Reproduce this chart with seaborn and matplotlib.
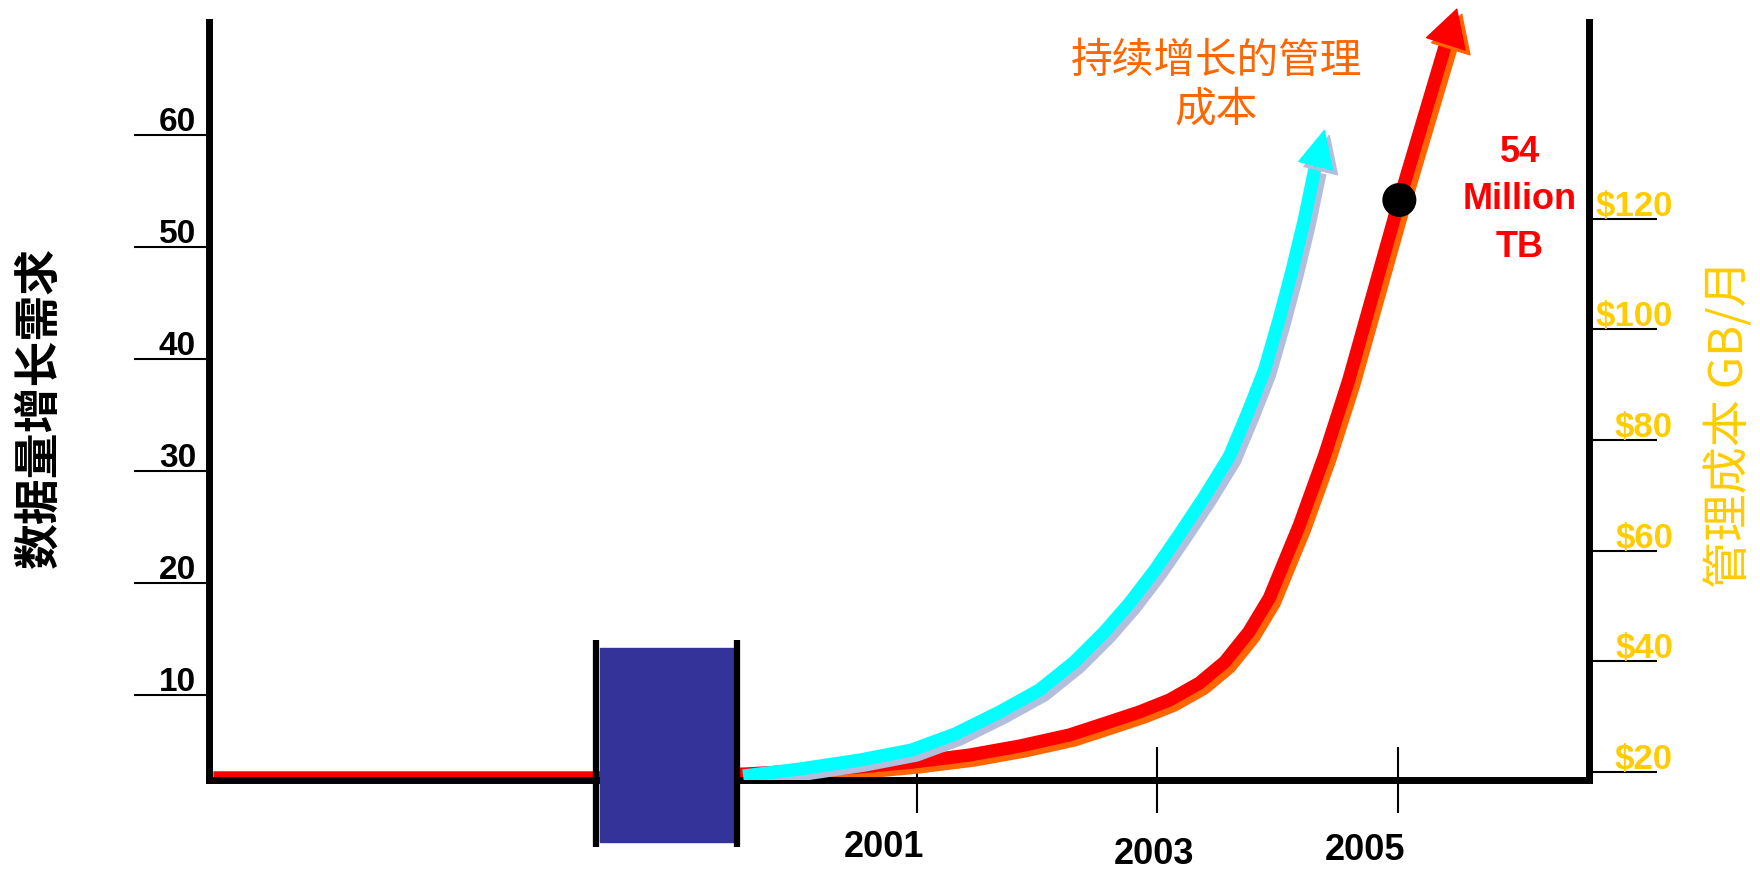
import matplotlib
matplotlib.use("Agg")
import matplotlib.pyplot as plt
import matplotlib.transforms as mtransforms
from matplotlib.patches import Rectangle
import seaborn as sns


# data volume demand (left axis)
red_years = [1995.16, 1998.34, 1999.58, 2000.03, 2000.53, 2000.98, 2001.44, 2001.86,
             2002.27, 2002.60, 2002.85, 2003.10, 2003.35, 2003.56, 2003.76, 2003.93,
             2004.18, 2004.39, 2004.59, 2004.80, 2005.01, 2005.40]
red_volume = [2.6, 2.6, 2.95, 3.21, 3.57, 4.02, 4.64, 5.45,
              6.43, 7.59, 8.48, 9.55, 11.07, 12.95, 15.63, 18.66,
              25.18, 31.43, 38.13, 46.16, 54.20, 68.30]
red_tip = (2005.49, 71.34)

# management cost (right axis)
cyan_years = [1999.56, 2000.03, 2000.53, 2000.96, 2001.32, 2001.69, 2002.02, 2002.31,
              2002.56, 2002.77, 2002.98, 2003.18, 2003.39, 2003.60, 2003.76, 2003.89,
              2004.01, 2004.12, 2004.22, 2004.31]
cyan_cost = [19.25, 20.51, 22.14, 23.95, 26.84, 30.82, 34.79, 39.85,
             45.27, 50.51, 56.48, 62.80, 69.67, 77.08, 85.40, 92.63,
             101.66, 110.70, 119.74, 129.14]
cyan_tip = (2004.39, 136.18)

milestone_year = [2005.01]
milestone_volume = [54.2]
milestone_text = "54\nMillion\nTB"

volume_ticks = [10, 20, 30, 40, 50, 60]
cost_ticks = [20, 40, 60, 80, 100, 120]
cost_labels = ["$20", "$40", "$60", "$80", "$100", "$120"]
year_ticks = [2001, 2003, 2005]

# axis break block
break_years = [1998.37, 1999.49]
break_volume = [-3.1, 14.2]
break_edges = [1998.34, 1999.51]
break_edge_span = [-3.6, 14.9]

left_title = "数据量增长需求"
right_title = "管理成本 GB/月"
cost_note = "持续增长的管理\n成本"

# label nudges in pixels (the original labels are not all centred on ticks)
year_label_offsets = [(-33, -68), (-3, -75), (-33, -71)]

RED, ORANGE = "#FF0000", "#FF6600"
CYAN, LAVENDER = "#00FFFF", "#B4BEDC"
GOLD, BLOCK = "#FFCC00", "#333399"
LINE_W = 9.5

sns.set_theme(style="white")
plt.rcParams["font.family"] = ["Liberation Sans", "Noto Sans CJK SC", "DejaVu Sans"]

fig = plt.figure(figsize=(17.6, 8.71), dpi=100)
ax = fig.add_axes([0.11875, 0.10448, 0.78409, 0.87026])
ax2 = ax.twinx()
ax.set_facecolor("none")

ax.set_xlim(1995.124, 2006.585)
ax.set_ylim(2.41, 70.09)
ax2.set_ylim(18.53, 155.52)

red_shadow = mtransforms.offset_copy(ax.transData, fig=fig, x=5, y=-5, units="dots")
cyan_shadow = mtransforms.offset_copy(ax2.transData, fig=fig, x=5, y=-5, units="dots")

# data growth curve with its orange shadow
sns.lineplot(x=red_years, y=red_volume, ax=ax, color=ORANGE, linewidth=LINE_W,
             sort=False, estimator=None, transform=red_shadow, solid_capstyle="butt",
             solid_joinstyle="round")
sns.lineplot(x=red_years, y=red_volume, ax=ax, color=RED, linewidth=LINE_W,
             sort=False, estimator=None, solid_capstyle="butt", solid_joinstyle="round")

# cost curve with its lavender shadow
sns.lineplot(x=cyan_years, y=cyan_cost, ax=ax2, color=LAVENDER, linewidth=LINE_W,
             sort=False, estimator=None, transform=cyan_shadow, solid_capstyle="butt",
             solid_joinstyle="round")
sns.lineplot(x=cyan_years, y=cyan_cost, ax=ax2, color=CYAN, linewidth=LINE_W,
             sort=False, estimator=None, solid_capstyle="butt", solid_joinstyle="round")


def arrow_head(axis, base, tip, color, tr, width):
    axis.annotate("", xy=tip, xytext=base, xycoords=tr, textcoords=tr,
                  arrowprops=dict(arrowstyle=f"-|>,head_length=2.6,head_width={width}",
                                  color=color, lw=1, shrinkA=0, shrinkB=0,
                                  mutation_scale=10),
                  annotation_clip=False)


arrow_head(ax, (red_years[-1], red_volume[-1]), red_tip, ORANGE, red_shadow, 1.45)
arrow_head(ax, (red_years[-1], red_volume[-1]), red_tip, RED, ax.transData, 1.45)
arrow_head(ax2, (cyan_years[-1], cyan_cost[-1]), cyan_tip, LAVENDER, cyan_shadow, 1.25)
arrow_head(ax2, (cyan_years[-1], cyan_cost[-1]), cyan_tip, CYAN, ax2.transData, 1.25)

sns.scatterplot(x=milestone_year, y=milestone_volume, ax=ax, s=600, color="black",
                edgecolor="none", zorder=6)

# break block on the time axis
ax.add_patch(Rectangle((break_years[0], break_volume[0]), break_years[1] - break_years[0],
                       break_volume[1] - break_volume[0], color=BLOCK, zorder=3,
                       clip_on=False))
ax.vlines(break_edges, break_edge_span[0], break_edge_span[1], color="black",
          linewidth=4.5, zorder=4, clip_on=False)

# spines
for side in ["top", "right"]:
    ax.spines[side].set_visible(False)
for side in ["left", "bottom"]:
    ax.spines[side].set_linewidth(5)
    ax.spines[side].set_color("black")
for side in ["top", "left", "bottom"]:
    ax2.spines[side].set_visible(False)
ax2.spines["right"].set_linewidth(5)
ax2.spines["right"].set_color("black")

# ticks
ax.set_yticks(volume_ticks)
ax.tick_params(axis="y", left=True, direction="out", length=54, width=1.5,
               color="black", labelleft=False)
ax.set_xticks(year_ticks)
ax.tick_params(axis="x", bottom=True, direction="inout", length=48, width=1.5,
               color="black", labelbottom=False)
ax2.set_yticks(cost_ticks)
ax2.tick_params(axis="y", right=True, direction="out", length=49, width=1.5,
                color="black", labelright=False)
ax.grid(False)
ax2.grid(False)
ax.set_xlabel("")
ax.set_ylabel("")
ax2.set_ylabel("")

for v in volume_ticks:
    ax.annotate(str(v), xy=(0, v), xycoords=("axes fraction", "data"),
                xytext=(-13, 4), textcoords="offset pixels", ha="right",
                va="baseline", fontsize=24, fontweight="bold", color="black")

for v, lab in zip(cost_ticks, cost_labels):
    ax2.annotate(lab, xy=(1, v), xycoords=("axes fraction", "data"),
                 xytext=(84, 3), textcoords="offset pixels", ha="right",
                 va="baseline", fontsize=25, fontweight="bold", color=GOLD)

for yr, (dx, dy) in zip(year_ticks, year_label_offsets):
    ax.annotate(str(yr), xy=(yr, 0), xycoords=("data", "axes fraction"),
                xytext=(dx, dy), textcoords="offset pixels", ha="center",
                va="center", fontsize=26, fontweight="bold", color="black",
                annotation_clip=False)

# titles and notes
ax.text(-0.123, 0.492, left_title, transform=ax.transAxes, rotation=90,
        ha="center", va="center", fontsize=33, fontweight="bold", color="black",
        family=["Noto Sans CJK SC", "DejaVu Sans"])
ax2.text(1.102, 0.470, right_title, transform=ax2.transAxes, rotation=90,
         ha="center", va="center", fontsize=34, color=GOLD,
         family=["Noto Sans CJK SC", "DejaVu Sans"])
ax2.text(2003.49, 144.0, cost_note, ha="center", va="center", fontsize=30,
         color=ORANGE, linespacing=1.25, family=["Noto Sans CJK SC", "DejaVu Sans"])
ax.text(2006.01, 54.2, milestone_text, ha="center", va="center", fontsize=26,
        fontweight="bold", color=RED, linespacing=1.45, multialignment="center")

fig.savefig("out.png", dpi=100)
